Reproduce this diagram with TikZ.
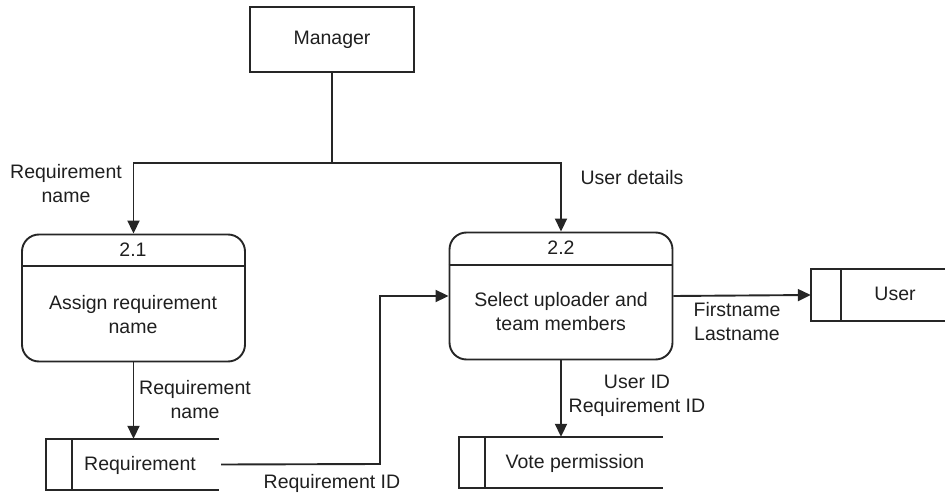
\documentclass[tikz,border=0pt]{standalone}
\usepackage{fontspec}
\setmainfont{Liberation Sans}
\usetikzlibrary{arrows.meta}
\begin{document}
\begin{tikzpicture}[x=1pt,y=-1pt,
  every node/.style={font=\fontsize{19.5}{24}\selectfont, text=black!88, inner sep=0pt},
  line/.style={line width=1.9pt, draw=black!85},
  arr/.style={line width=1.9pt, draw=black!85, -{Triangle[length=13pt,width=12pt]}},
  entity/.style={draw=black!85, line width=1.9pt, rectangle, minimum width=164pt, minimum height=65pt},
  procbox/.style={draw=black!85, line width=1.9pt, rectangle, rounded corners=17pt, minimum width=223pt, minimum height=127pt},
  storebox/.style={rectangle, minimum height=51pt},
  lbl/.style={align=center}
]
\useasboundingbox (0,0) rectangle (945,497);

% External entity
\node[entity] (mgr) at (332,39.5) {Manager};

% Processes
\node[procbox] (p21) at (133.5,298) {};
\node[procbox] (p22) at (561,296) {};
\draw[line] (p21.west |- 0,266) -- (p21.east |- 0,266);
\draw[line] (p22.west |- 0,265) -- (p22.east |- 0,265);
\node (p21n) at (133,250) {2.1};
\node[lbl] (p21t) at (133,315) {Assign requirement\\name};
\node (p22n) at (561,248) {2.2};
\node[lbl] (p22t) at (561,312) {Select uploader and\\team members};

% Data stores
\node[storebox, minimum width=173pt] (req) at (132.5,464.5) {};
\draw[line] (req.north east) -- (req.north west) -- (req.south west) -- (req.south east);
\draw[line] (72,439) -- (72,490);
\node (reqt) at (140,465) {Requirement};

\node[storebox, minimum width=204pt] (vote) at (561,462.5) {};
\draw[line] (vote.north east) -- (vote.north west) -- (vote.south west) -- (vote.south east);
\draw[line] (485,437) -- (485,488);
\node (votet) at (575,463) {Vote permission};

\node[storebox, minimum width=140pt, minimum height=52pt] (usr) at (881,295) {};
\draw[line] (usr.north east) -- (usr.north west) -- (usr.south west) -- (usr.south east);
\draw[line] (841,269) -- (841,321);
\node (usrt) at (895,294) {User};

% Flows
\coordinate (split) at (332,163);
\draw[line] (mgr.south) -- (split);
\draw[arr] (split) -| (p21.north);
\draw[arr] (split) -| (p22.north);
\draw[arr] (p21.south) -- (p21.south |- req.north);
\draw[arr] (p22.south) -- (p22.south |- vote.north);
\draw[arr] (p22.east) -- (usr.west);
\draw[arr] ([xshift=2pt]req.east) -- (380,464) |- (p22.west);

% Flow labels
\node[lbl] (l1) at (66,184) {Requirement\\name};
\node (l2) at (632,178) {User details};
\node[lbl] (l3) at (737,322) {Firstname\\Lastname};
\node[lbl] (l4) at (195,399.5) {Requirement\\name};
\node (l5) at (332,483) {Requirement ID};
\node[lbl] (l6) at (637,396) {User ID\\Requirement ID};
\end{tikzpicture}
\end{document}
